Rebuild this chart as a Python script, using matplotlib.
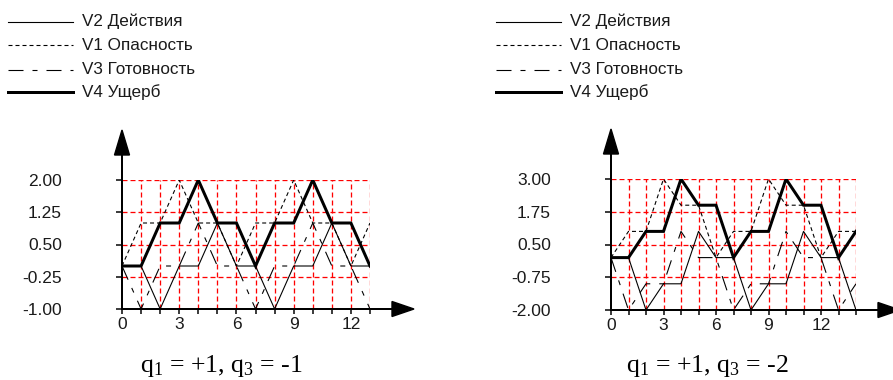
import numpy as np
import matplotlib.pyplot as plt
from matplotlib.patches import Polygon
from matplotlib.lines import Line2D

plt.rcParams['font.family'] = ['Liberation Sans', 'DejaVu Sans']
plt.rcParams['lines.scale_dashes'] = False

# q1 = +1, q3 = -1
t_a = list(range(14))
v1_a = [0, 1, 1, 2, 1, 1, 0, 1, 1, 2, 1, 1, 0, 1]
v2_a = [0, 0, -1, 0, 0, 1, 0, 0, -1, 0, 0, 1, 0, 0]
v3_a = [0, -1, 0, 0, 1, 0, 0, -1, 0, 0, 1, 0, 0, -1]
v4_a = [0, 0, 1, 1, 2, 1, 1, 0, 1, 1, 2, 1, 1, 0]
yticks_a = [2.00, 1.25, 0.50, -0.25, -1.00]

# q1 = +1, q3 = -2
t_b = list(range(15))
v1_b = [0, 1, 1, 3, 2, 2, 0, 1, 1, 3, 2, 2, 0, 1, 1]
v2_b = [0, 0, -2, -1, -1, 1, 0, 0, -2, -1, -1, 1, 0, 0, -2]
v3_b = [0, -2, -1, -1, 1, 0, 0, -2, -1, -1, 1, 0, 0, -2, -1]
v4_b = [0, 0, 1, 1, 3, 2, 2, 0, 1, 1, 3, 2, 2, 0, 1]
yticks_b = [3.00, 1.75, 0.50, -0.75, -2.00]

names = ['V2 Действия', 'V1 Опасность', 'V3 Готовность', 'V4 Ущерб']

W, H = 893, 380
PT = 72 / 100  # points per pixel

styles = {
    'v2': dict(color='k', lw=1.1 * PT, ls='-'),
    'v1': dict(color='k', lw=1.1 * PT, ls=(0, (4 * PT, 3 * PT))),
    'v3': dict(color='k', lw=1.1 * PT, ls=(0, (15 * PT, 9 * PT, 5 * PT, 9 * PT))),
    'v4': dict(color='k', lw=3 * PT, ls='-'),
}

fig = plt.figure(figsize=(W / 100, H / 100), dpi=100)


def panel(box, t, v1, v2, v3, v4, yticks, leg_x, caption, cap_x):
    left, right, top, bottom = box
    ax = fig.add_axes([left / W, 1 - bottom / H, (right - left) / W, (bottom - top) / H])
    xmax = t[-1]
    ymin, ymax = yticks[-1], yticks[0]
    ax.set_xlim(0, xmax)
    ax.set_ylim(ymin, ymax)
    for s in ax.spines.values():
        s.set_visible(False)
    ax.patch.set_alpha(0)

    # красная сетка
    gdash = (0, (5 * PT, 3 * PT))
    ax.vlines(t[1:], ymin, ymax, colors='#ff0000', linewidths=1.3 * PT, linestyles=[gdash], zorder=1)
    ax.hlines(yticks, 0, xmax, colors='#ff0000', linewidths=1.3 * PT, linestyles=[gdash], zorder=1)

    ax.plot(t, v2, zorder=3, **styles['v2'])
    ax.plot(t, v1, zorder=3, **styles['v1'])
    ax.plot(t, v3, zorder=3, **styles['v3'])
    ax.plot(t, v4, zorder=4, solid_joinstyle='miter', **styles['v4'])

    # оси со стрелками
    dx = xmax / (right - left)
    dy = (ymax - ymin) / (bottom - top)
    ax.plot([0, 0], [ymin, ymax + 26 * dy], color='k', lw=2 * PT, clip_on=False, zorder=5)
    ax.plot([0, xmax + 22 * dx], [ymin, ymin], color='k', lw=2 * PT, clip_on=False, zorder=5)
    ax.add_patch(Polygon([(-7.5 * dx, ymax + 25 * dy), (7.5 * dx, ymax + 25 * dy), (0, ymax + 50 * dy)],
                         closed=True, color='k', clip_on=False, zorder=5))
    ax.add_patch(Polygon([(xmax + 22 * dx, ymin + 7.5 * dy), (xmax + 22 * dx, ymin - 7.5 * dy),
                          (xmax + 44 * dx, ymin)], closed=True, color='k', clip_on=False, zorder=5))

    ax.set_xticks(t)
    ax.set_xticklabels([str(x) if x % 3 == 0 else '' for x in t])
    ax.set_yticks(yticks)
    ax.set_yticklabels(['%.2f' % y for y in yticks])
    ax.tick_params(axis='x', length=5 * PT, width=1.5 * PT, pad=3 * PT, labelsize=12.5, labelcolor='#1a1a1a')
    ax.tick_params(axis='y', length=6 * PT, width=1.5 * PT, pad=54 * PT, labelsize=12.5, labelcolor='#1a1a1a')

    # легенда
    for y, name, key in zip([21.7, 45, 70, 92], names, ['v2', 'v1', 'v3', 'v4']):
        fig.add_artist(Line2D([leg_x / W, (leg_x + 65) / W], [1 - y / H, 1 - y / H], **styles[key]))
        fig.text((leg_x + 74) / W, 1 - y / H, name, va='center', ha='left', fontsize=12.3, color='#1a1a1a')

    fig.text(cap_x / W, 1 - 366 / H, caption, ha='center', va='center',
             family=['Liberation Serif', 'DejaVu Serif'], fontsize=18.5)
    return ax


panel((122, 370, 180, 309), t_a, v1_a, v2_a, v3_a, v4_a, yticks_a, 8,
      r'$\mathregular{q_1}$ = +1, $\mathregular{q_3}$ = -1', 221)
panel((611, 856, 179, 310), t_b, v1_b, v2_b, v3_b, v4_b, yticks_b, 496,
      r'$\mathregular{q_1}$ = +1, $\mathregular{q_3}$ = -2', 707)

plt.savefig('out.png', dpi=100)
